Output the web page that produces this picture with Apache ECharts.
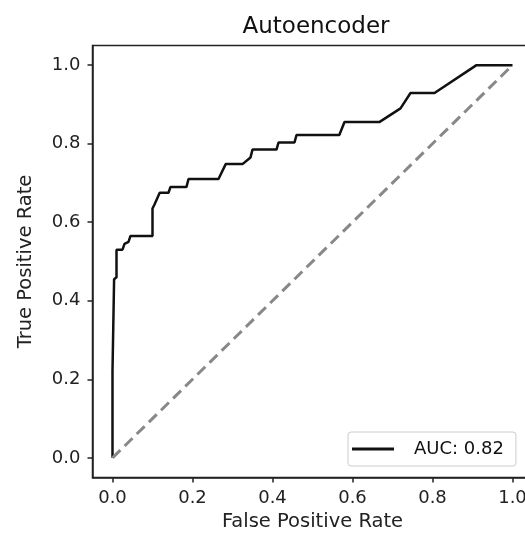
<!DOCTYPE html>
<html>
<head>
<meta charset="utf-8">
<script src="https://cdn.jsdelivr.net/npm/echarts@6/dist/echarts.min.js"></script>
<style>
  html, body { margin: 0; padding: 0; background: #fff; }
  #rocChart { width: 525px; height: 536px; }
</style>
</head>
<body>
<div id="rocChart"></div>
<script>
// ROC curve
const fpr = [0, 0, 0.004, 0.004, 0.01, 0.01, 0.025, 0.03, 0.04, 0.045, 0.1, 0.1, 0.105, 0.118, 0.14, 0.145,
  0.185, 0.19, 0.265, 0.283, 0.325, 0.345, 0.35, 0.41, 0.415, 0.455, 0.46, 0.567, 0.58, 0.667, 0.72,
  0.745, 0.805, 0.91, 1.0];
const tpr = [0, 0.22, 0.225, 0.455, 0.46, 0.53, 0.53, 0.545, 0.55, 0.565, 0.565, 0.635, 0.645, 0.675, 0.675, 0.69,
  0.69, 0.71, 0.71, 0.748, 0.748, 0.765, 0.785, 0.785, 0.803, 0.803, 0.822, 0.822, 0.855, 0.855, 0.89,
  0.929, 0.929, 1.0, 1.0];
const chanceX = [0, 1];
const chanceY = [0, 1];
const tickVals = [0, 0.2, 0.4, 0.6, 0.8, 1.0];
const aucLabel = 'AUC: 0.82';

const font = 'DejaVu Sans';

function pairs(xs, ys) {
  let out = [];
  xs.forEach((x, i) => out.push([x, ys[i]]));
  return out;
}

function axisCommon(name) {
  return {
    type: 'value',
    min: -0.05,
    max: 1.05,
    name: name,
    nameLocation: 'middle',
    nameTextStyle: { fontFamily: font, fontSize: 19.5, color: '#222' },
    axisLine: { show: true, onZero: false, lineStyle: { color: '#222', width: 1.5 } },
    axisTick: { show: true, length: 5, customValues: tickVals, lineStyle: { color: '#222', width: 1.5 } },
    axisLabel: {
      customValues: tickVals,
      margin: 12,
      fontFamily: font,
      fontSize: 18,
      color: '#222',
      formatter: (v) => v.toFixed(1)
    },
    splitLine: { show: false }
  };
}

let chart = echarts.init(document.getElementById('rocChart'));

let xAxis = axisCommon('False Positive Rate');
xAxis.nameGap = 31;
let yAxis = axisCommon('True Positive Rate');
yAxis.nameGap = 57;

chart.setOption({
  animation: false,
  backgroundColor: '#fff',
  title: {
    text: 'Autoencoder',
    left: 311,
    top: 11,
    textAlign: 'center',
    textStyle: { fontFamily: font, fontSize: 23, fontWeight: 'normal', color: '#111' }
  },
  grid: {
    left: 92.5,
    top: 45.5,
    width: 440,
    height: 432,
    show: true,
    borderColor: '#222',
    borderWidth: 1.5,
    outerBoundsMode: 'none'
  },
  legend: {
    data: [aucLabel],
    left: 348,
    top: 432,
    padding: [8, 12, 8, 4],
    icon: 'rect',
    itemWidth: 42,
    itemHeight: 3,
    borderColor: '#ccc',
    borderWidth: 1,
    borderRadius: 3,
    backgroundColor: '#fff',
    textStyle: { fontFamily: font, fontSize: 18, color: '#111', padding: [0, 0, 0, 15] }
  },
  xAxis: xAxis,
  yAxis: yAxis,
  series: [
    {
      name: aucLabel,
      type: 'line',
      data: pairs(fpr, tpr),
      showSymbol: false,
      itemStyle: { color: '#111' },
      lineStyle: { color: '#111', width: 2.5 }
    },
    {
      name: 'chance',
      type: 'line',
      data: pairs(chanceX, chanceY),
      showSymbol: false,
      itemStyle: { color: '#888' },
      lineStyle: { color: '#888', width: 3, type: [11, 6] }
    }
  ]
});
</script>
</body>
</html>
